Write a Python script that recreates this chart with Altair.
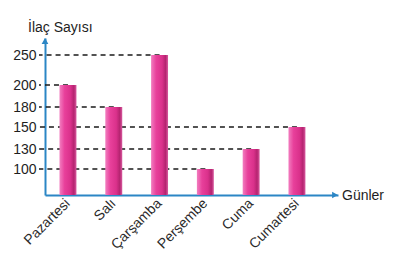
import altair as alt
import pandas as pd

days = ["Pazartesi", "Salı", "Çarşamba", "Perşembe", "Cuma", "Cumartesi"]
values = [200, 180, 250, 100, 130, 150]
tick_values = [100, 130, 150, 180, 200, 250]

# piecewise (schematic) y scale as drawn in the picture
y_domain = [0, 100, 130, 150, 180, 200, 250, 282]
y_range = [157, 131, 111, 89, 69, 47, 17, 0]

df = pd.DataFrame({"day": days, "value": values})

FONT = "Liberation Sans"
BLUE = "#2b86c5"

xscale = alt.Scale(domain=days, paddingInner=0.63, paddingOuter=0.514, align=0.308)
yscale = alt.Scale(domain=y_domain, range=y_range, nice=False, zero=False)

x_axis = alt.Axis(
    title=None, labelAngle=-45, labelAlign="right", labelBaseline="middle",
    labelFont=FONT, labelFontSize=14, labelColor="#2a2a2a", labelPadding=6,
    ticks=False, domainColor=BLUE, domainWidth=2, labelOverlap=False,
)
y_axis = alt.Axis(
    title=None, values=tick_values, labelFont=FONT, labelFontSize=14,
    labelColor="#1e1e1e", labelPadding=9, ticks=False, grid=False,
    domainColor=BLUE, domainWidth=2,
)

base = alt.Chart(df)

rules = base.mark_rule(color="#1a1a1a", strokeDash=[5, 4], strokeWidth=1.3).encode(
    x=alt.X("day:N", scale=xscale, sort=days, axis=x_axis),
    x2=alt.value(-6),
    y=alt.Y("value:Q", scale=yscale, axis=y_axis),
)

grad = alt.Gradient(
    gradient="linear",
    x1=0, x2=1, y1=0, y2=0,
    stops=[
        alt.GradientStop(color="#f27ec0", offset=0),
        alt.GradientStop(color="#e8409b", offset=0.3),
        alt.GradientStop(color="#da318b", offset=0.65),
        alt.GradientStop(color="#b52470", offset=0.85),
        alt.GradientStop(color="#d95aa0", offset=1),
    ],
)

bars = base.mark_bar(color=grad).encode(
    x=alt.X("day:N", scale=xscale, sort=days, axis=x_axis),
    y=alt.Y("value:Q", scale=yscale, axis=y_axis),
    y2=alt.datum(0),
)

arrow_up = alt.Chart(pd.DataFrame({"a": [0]})).mark_point(
    shape="triangle-up", filled=True, color=BLUE, size=45, opacity=1
).encode(x=alt.value(0), y=alt.value(3))

arrow_right = alt.Chart(pd.DataFrame({"a": [0]})).mark_point(
    shape="triangle-right", filled=True, color=BLUE, size=45, opacity=1
).encode(x=alt.value(290), y=alt.value(157))

ytitle = alt.Chart(pd.DataFrame({"t": ["İlaç Sayısı"]})).mark_text(
    font=FONT, fontSize=14, color="#1e1e1e", align="left", baseline="alphabetic"
).encode(text="t:N", x=alt.value(-17), y=alt.value(-6))

xtitle = alt.Chart(pd.DataFrame({"t": ["Günler"]})).mark_text(
    font=FONT, fontSize=14, color="#1e1e1e", align="left", baseline="middle"
).encode(text="t:N", x=alt.value(297), y=alt.value(158))

chart = alt.layer(rules, bars, arrow_up, arrow_right, ytitle, xtitle).properties(
    width=293,
    height=157,
    background="white",
    autosize=alt.AutoSizeParams(type="none"),
    padding={"left": 45, "top": 38, "right": 60, "bottom": 70},
).configure_view(stroke=None)

chart.save("out.html", embed_options={"renderer": "svg", "actions": False})
